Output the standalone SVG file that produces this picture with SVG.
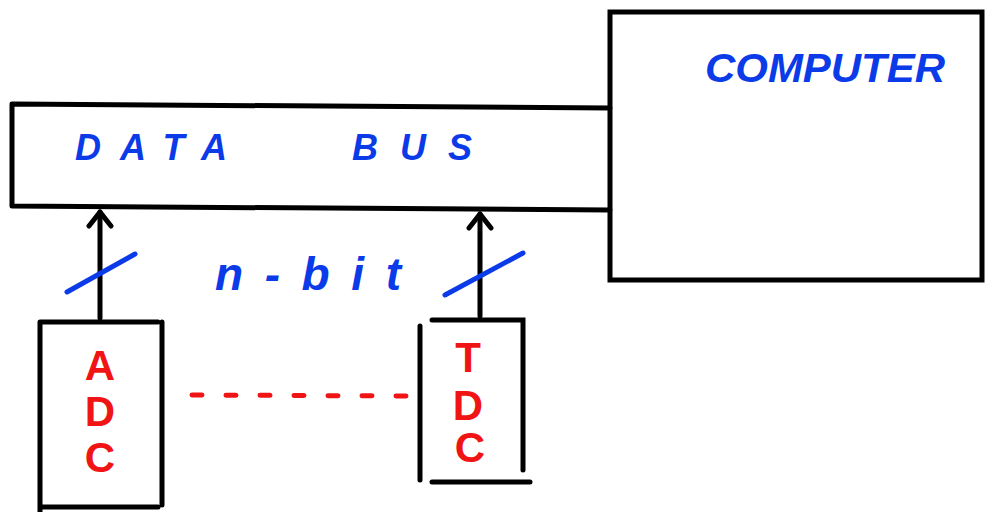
<svg xmlns="http://www.w3.org/2000/svg" width="990" height="512" viewBox="0 0 990 512">
<style>
.box{fill:none;stroke:#000;stroke-width:5;stroke-linecap:round}
.blue{fill:#0b3be8;font-family:"Liberation Sans",Arial,sans-serif;font-style:italic;font-weight:bold}
.red{fill:#f01414;font-family:"Liberation Sans",Arial,sans-serif;font-weight:bold;font-size:42px;text-anchor:middle}
.wire{stroke:#000;stroke-width:5;fill:none;stroke-linecap:round}
.slash{stroke:#0b3be8;stroke-width:5;stroke-linecap:round;fill:none}
</style>
<defs>
<marker id="ah" viewBox="0 0 22 28" refX="18" refY="14" markerWidth="22" markerHeight="28" markerUnits="userSpaceOnUse" orient="auto">
<path d="M4,3 L18,14 L4,25" fill="none" stroke="#000" stroke-width="5" stroke-linecap="round" stroke-linejoin="round"/>
</marker>
</defs>
<rect width="990" height="512" fill="#fff"/>
<g id="computer">
<rect class="box" x="610" y="12" width="372" height="268"/>
<text class="blue" x="705" y="82" font-size="40" textLength="240" lengthAdjust="spacingAndGlyphs">COMPUTER</text>
</g>
<g id="databus">
<path class="box" d="M12,104 L610,108 M12,206 L610,210 M12,104 L12,206"/>
<text class="blue" x="75" y="160" font-size="36" letter-spacing="8" textLength="160">DATA</text>
<text class="blue" x="352" y="160" font-size="36" letter-spacing="8" textLength="128">BUS</text>
</g>
<g id="adc">
<path class="box" d="M40,322 L40,512 M40,322 L158,322 M162,322 L162,505 M40,507 L158,507"/>
<text class="red" x="100" y="380">A</text>
<text class="red" x="100" y="426">D</text>
<text class="red" x="100" y="472">C</text>
</g>
<g id="tdc">
<path class="box" d="M420,326 L420,480 M432,320 L523,320 L523,470 M432,482 L530,482"/>
<text class="red" x="468" y="372">T</text>
<text class="red" x="468" y="420">D</text>
<text class="red" x="470" y="462">C</text>
</g>
<g id="connectors">
<line class="wire" x1="100" y1="318" x2="100" y2="212" marker-end="url(#ah)"/>
<line class="wire" x1="480" y1="316" x2="480" y2="214" marker-end="url(#ah)"/>
<path class="slash" d="M67,292 L135,254"/>
<path class="slash" d="M445,295 L523,253"/>
<path d="M192,395 L406,396" stroke="#f01414" stroke-width="5" stroke-dasharray="10,24" stroke-linecap="round"/>
<text class="blue" x="215" y="290" font-size="46" letter-spacing="6" textLength="192">n-bit</text>
</g>
</svg>
